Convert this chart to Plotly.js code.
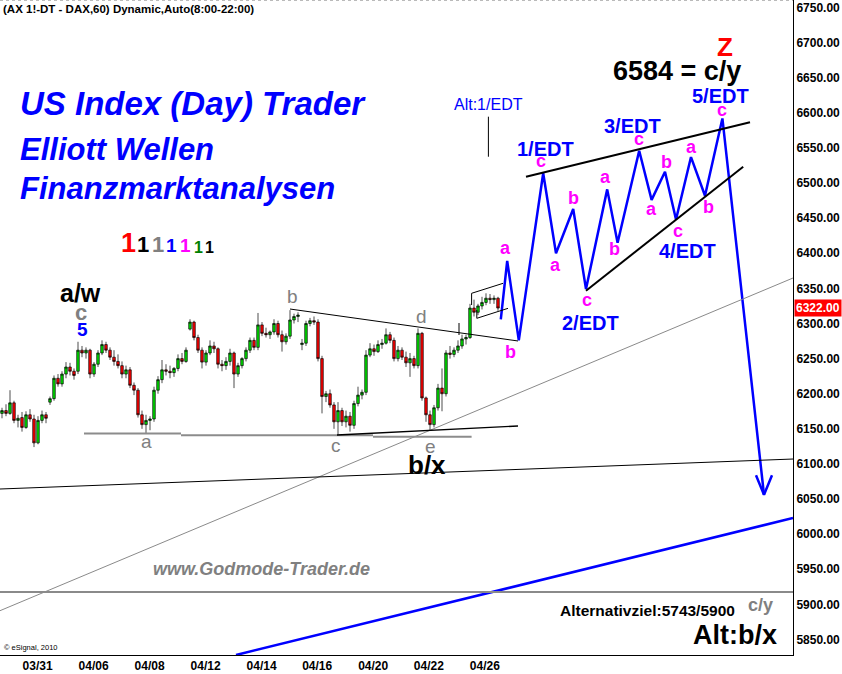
<!DOCTYPE html>
<html><head><meta charset="utf-8">
<script src="https://cdn.plot.ly/plotly-3.0.1.min.js"></script>
<style>html,body{margin:0;padding:0;background:#fff;}#chart{width:842px;height:674px;}</style>
</head><body><div id="chart"></div>
<script>
// ---- 2-hour candles (DAX future, 60 min chart, condensed) ----
const openP  = [6172,6176,6172,6187,6162,6166,6152,6170,6164,6130,6162,6170,6188,6193,6222,6214,6228,6238,6232,6232,
                6262,6258,6262,6228,6242,6258,6270,6262,6252,6246,6240,6228,6234,6212,6205,6170,6156,6162,6164,6205,
                6220,6234,6232,6230,6236,6250,6246,6292,6302,6280,6262,6245,6258,6268,6264,6242,6240,6246,6258,6228,
                6240,6250,6262,6276,6266,6298,6286,6284,6288,6300,6284,6274,6282,6305,6310,6270,6272,6300,6304,6302,
                6250,6196,6200,6184,6160,6176,6160,6168,6155,6186,6198,6202,6255,6264,6260,6270,6272,6284,6276,6250,
                6262,6252,6244,6250,6240,6286,6194,6170,6156,6180,6208,6200,6258,6256,6262,6268,6278,6280,6322,6316,
                6325,6330,6336,6334,6336];
const highP  = [6180,6185,6205,6190,6170,6174,6175,6178,6170,6168,6176,6174,6196,6226,6228,6232,6245,6244,6236,6274,
                6268,6266,6264,6245,6262,6276,6274,6266,6262,6256,6246,6240,6238,6216,6208,6176,6170,6168,6210,6225,
                6248,6242,6240,6238,6256,6258,6266,6306,6304,6284,6266,6262,6276,6274,6266,6248,6252,6264,6260,6244,
                6252,6266,6280,6280,6315,6302,6294,6290,6306,6304,6290,6286,6319,6314,6316,6278,6304,6308,6310,6306,
                6254,6204,6206,6188,6188,6180,6176,6174,6190,6210,6206,6262,6272,6270,6276,6278,6293,6288,6280,6268,
                6266,6260,6258,6254,6293,6288,6196,6176,6184,6214,6236,6262,6268,6266,6276,6284,6284,6328,6334,6328,
                6338,6343,6342,6340,6338];
const lowP   = [6165,6168,6170,6158,6152,6146,6150,6160,6124,6128,6158,6158,6184,6190,6210,6210,6222,6226,6220,6228,
                6252,6250,6222,6224,6238,6255,6258,6248,6240,6236,6222,6222,6208,6198,6166,6150,6144,6148,6160,6200,
                6215,6226,6222,6224,6232,6242,6244,6290,6276,6258,6236,6240,6255,6258,6236,6232,6234,6240,6208,6224,
                6236,6246,6258,6262,6262,6282,6280,6278,6284,6280,6260,6270,6278,6300,6302,6262,6268,6296,6298,6246,
                6172,6188,6180,6150,6141,6154,6152,6146,6150,6182,6192,6198,6252,6254,6258,6264,6270,6272,6246,6246,
                6248,6238,6224,6236,6236,6190,6160,6148,6152,6176,6175,6196,6250,6252,6258,6264,6270,6278,6310,6312,
                6320,6326,6328,6328,6318];
const closeP = [6176,6172,6187,6162,6165,6152,6170,6164,6130,6162,6170,6165,6193,6222,6214,6228,6238,6232,6226,6262,
                6258,6262,6228,6242,6258,6270,6262,6252,6246,6240,6228,6234,6212,6205,6170,6156,6162,6164,6205,6220,
                6234,6232,6230,6236,6250,6246,6262,6302,6280,6262,6245,6258,6268,6264,6242,6240,6246,6258,6228,6240,
                6250,6262,6276,6266,6298,6286,6284,6288,6300,6284,6274,6282,6305,6310,6312,6272,6300,6304,6302,6250,
                6196,6200,6184,6160,6176,6160,6168,6155,6186,6198,6202,6255,6264,6260,6270,6272,6284,6276,6250,6262,
                6252,6244,6250,6240,6286,6194,6170,6156,6180,6208,6200,6258,6256,6262,6268,6278,6280,6322,6316,6325,
                6330,6336,6334,6336,6322];

// x-axis date labels (bar positions)
const tickPos    = [8.9, 22.9, 36.9, 50.9, 64.9, 78.8, 92.8, 106.7, 120.7];
const tickLabels = ['03/31','04/06','04/08','04/12','04/14','04/16','04/20','04/22','04/26'];

// projected Elliott wave path (bar, price)
const waveBar = [124.7,126.3,129.2,135.3,138.5,142.8,146.0,151.3,153.9,159.3,162.4,165.75,168.5,172.25,175.75,180.1,190.5];
const waveP   = [6306, 6389, 6276, 6514, 6400, 6463, 6349, 6491, 6415, 6546, 6476, 6516, 6448, 6537, 6482, 6592, 6056];
const arrowBar = [188.5, 190.5, 192.5];
const arrowP   = [6084, 6056, 6084];

// drawn trend lines: [x0, p0, x1, p1]
const supportLines = [[20.5,6143.3,44.75,6143.3],[44.75,6140.8,92.75,6140.8],[92.75,6138.8,117.4,6138.8]];
const triUpper   = [72, 6320.6, 129, 6275.1];
const triLower   = [83.75, 6141.2, 129, 6154];
const chanUpper  = [117.4, 6343, 125.25, 6357.2];
const chanLower  = [118.7, 6307.4, 126.5, 6321.6];
const chanLeftA  = [117.4, 6343, 117.4, 6326.3];
const chanLeftB  = [118.7, 6319.2, 118.7, 6307.4];
const tickMark   = [114.25, 6300.7, 114.25, 6283.6];
const altMark    = [121.6, 6594.5, 121.6, 6537.5];
const grayTrend  = [-0.5, 5891, 197.75, 6364.8];
const blackTrend = [-0.5, 6064.3, 197.75, 6107];
const blueTrend  = [58.5, 5827.9, 197.75, 6023];
const grayHoriz  = [-0.5, 5917.6, 197.75, 5917.6];
const edtUpper   = [131, 6509, 187, 6586.5];
const edtLower   = [146, 6346.7, 185.3, 6523.3];
const lastPrice  = 6322;

const FONT = 'Liberation Sans, Arial, Helvetica, sans-serif';
const PW = 793, PH = 655;

function seg(a, color, width, dash) {
  return {type:'line', xref:'x', yref:'y', x0:a[0], y0:a[1], x1:a[2], y1:a[3],
          line:{color:color, width:width, dash:dash||'solid'}, layer:'above'};
}
function lab(text, px, py, size, color, anchor) {
  return {text:text, xref:'paper', yref:'paper', x:px/PW, y:1-py/PH, showarrow:false,
          xanchor:anchor||'center', yanchor:'middle', font:{family:FONT, size:size, color:color}};
}

const shapes = [
  {type:'line', xref:'paper', yref:'paper', x0:0, x1:1, y0:1, y1:1, line:{color:'#777', width:1, dash:'dot'}},
  seg(grayTrend, '#8a8a8a', 1),
  seg(blackTrend, '#000', 1),
  seg(blueTrend, '#0000ff', 2.5),
  seg(grayHoriz, '#8a8a8a', 2),
  ...supportLines.map(s => seg(s, '#8c8c8c', 2)),
  seg(triUpper, '#000', 1),
  seg(triLower, '#000', 1.3),
  seg(chanUpper, '#000', 1), seg(chanLower, '#000', 1),
  seg(chanLeftA, '#000', 1), seg(chanLeftB, '#000', 1),
  seg(tickMark, '#000', 1),
  seg(altMark, '#000', 1),
  seg(edtUpper, '#000', 2),
  seg(edtLower, '#000', 2)
];

const M = '#ff00ff', B = '#0000ff', G = '#808080';
const annotations = [
  lab('<b>(AX 1!-DT - DAX,60) Dynamic,Auto(8:00-22:00)</b>', 1, 9, 11.5, '#000', 'left'),
  lab('<b><i>US Index (Day) Trader</i></b>', 18, 104, 33, B, 'left'),
  lab('<b><i>Elliott Wellen</i></b>', 18, 150, 31, B, 'left'),
  lab('<b><i>Finanzmarktanalysen</i></b>', 18, 189, 31, B, 'left'),
  lab('<b>1</b>', 128.5, 242.5, 27, '#ff0000'),
  lab('<b>1</b>', 143, 244.5, 22, '#000'),
  lab('<b>1</b>', 158, 244.5, 22, G),
  lab('<b>1</b>', 171, 245.5, 19, B),
  lab('<b>1</b>', 185, 245.5, 19, M),
  lab('<b>1</b>', 198, 247, 16, '#008000'),
  lab('<b>1</b>', 210, 247, 16, '#000'),
  lab('<b>a/w</b>', 80, 293, 25, '#000'),
  lab('<b>c</b>', 81, 312, 22, G),
  lab('<b>5</b>', 82, 330, 19, B),
  lab('a', 146, 441, 19, G),
  lab('b', 292, 296, 19, G),
  lab('c', 336, 445, 19, G),
  lab('d', 421, 316, 19, G),
  lab('e', 430, 446, 19, G),
  lab('<b>b/x</b>', 427, 465, 26, '#000'),
  lab('Alt:1/EDT', 488, 105, 16, B),
  lab('<b>a</b>', 505, 248, 18, M),
  lab('<b>b</b>', 511, 352, 18, M),
  lab('<b>c</b>', 541, 161, 18, M),
  lab('<b>a</b>', 555, 265, 18, M),
  lab('<b>b</b>', 573, 198, 18, M),
  lab('<b>c</b>', 587, 300, 18, M),
  lab('<b>a</b>', 605, 177, 18, M),
  lab('<b>b</b>', 614, 249, 18, M),
  lab('<b>c</b>', 639, 139, 18, M),
  lab('<b>a</b>', 651, 209, 18, M),
  lab('<b>b</b>', 666, 162, 18, M),
  lab('<b>c</b>', 678, 231, 18, M),
  lab('<b>a</b>', 691, 147, 18, M),
  lab('<b>b</b>', 708, 207, 18, M),
  lab('<b>c</b>', 722, 110, 18, M),
  lab('<b>1/EDT</b>', 545, 149, 20, B),
  lab('<b>2/EDT</b>', 590, 323, 20, B),
  lab('<b>3/EDT</b>', 632, 126, 20, B),
  lab('<b>4/EDT</b>', 687, 251, 20, B),
  lab('<b>5/EDT</b>', 720, 96, 20, B),
  lab('<b>6584 = c/y</b>', 677, 71, 27, '#000'),
  lab('<b>Z</b>', 725, 47, 26, '#ff0000'),
  lab('<b><i>www.Godmode-Trader.de</i></b>', 261, 569, 18, G),
  lab('<b>Alternativziel:5743/5900</b>', 647.5, 610, 15.5, '#000'),
  lab('<b>c/y</b>', 760, 605, 18, G),
  lab('<b>Alt:b/x</b>', 735, 635, 27, '#000'),
  lab('© eSignal, 2010', 2, 647, 7.5, '#000', 'left'),
  {text:'<b>' + lastPrice.toFixed(2) + '</b>', xref:'paper', yref:'y', x:1, y:lastPrice, xanchor:'left', yanchor:'middle',
   xshift:1, showarrow:false, bgcolor:'#ff0000', borderpad:1, font:{family:FONT, size:12, color:'#fff'}}
];

const barIndex = openP.map((_, i) => i);

const traces = [
  {type:'candlestick', x:barIndex, open:openP, high:highP, low:lowP, close:closeP,
   increasing:{line:{color:'#000', width:0.7}, fillcolor:'#00e000'},
   decreasing:{line:{color:'#000', width:0.7}, fillcolor:'#ff0000'},
   whiskerwidth:0, hoverinfo:'skip', showlegend:false},
  {type:'scatter', mode:'lines', x:waveBar, y:waveP, line:{color:'#0000ff', width:2.5}, hoverinfo:'skip', showlegend:false},
  {type:'scatter', mode:'lines', x:arrowBar, y:arrowP, line:{color:'#0000ff', width:2.5}, hoverinfo:'skip', showlegend:false}
];

const layout = {
  width:842, height:674, margin:{l:0, r:49, t:0, b:19, pad:0},
  paper_bgcolor:'#ffffff', plot_bgcolor:'#ffffff', showlegend:false, boxgap:0.1,
  xaxis:{range:[-0.5,197.75], tickmode:'array', tickvals:tickPos, ticktext:tickLabels,
         showgrid:false, zeroline:false, showline:true, linecolor:'#000', linewidth:1, ticks:'',
         tickfont:{family:FONT, size:12, color:'#000', weight:'bold'}, rangeslider:{visible:false}, fixedrange:true},
  yaxis:{side:'right', range:[5827.9,6760.7], tick0:5850, dtick:50, tickformat:'.2f',
         showgrid:false, zeroline:false, showline:true, linecolor:'#000', linewidth:1, ticks:'',
         tickfont:{family:FONT, size:12, color:'#000', weight:'bold'}, fixedrange:true},
  shapes:shapes, annotations:annotations
};

Plotly.newPlot('chart', traces, layout, {displayModeBar:false, staticPlot:true});
</script>
</body></html>
